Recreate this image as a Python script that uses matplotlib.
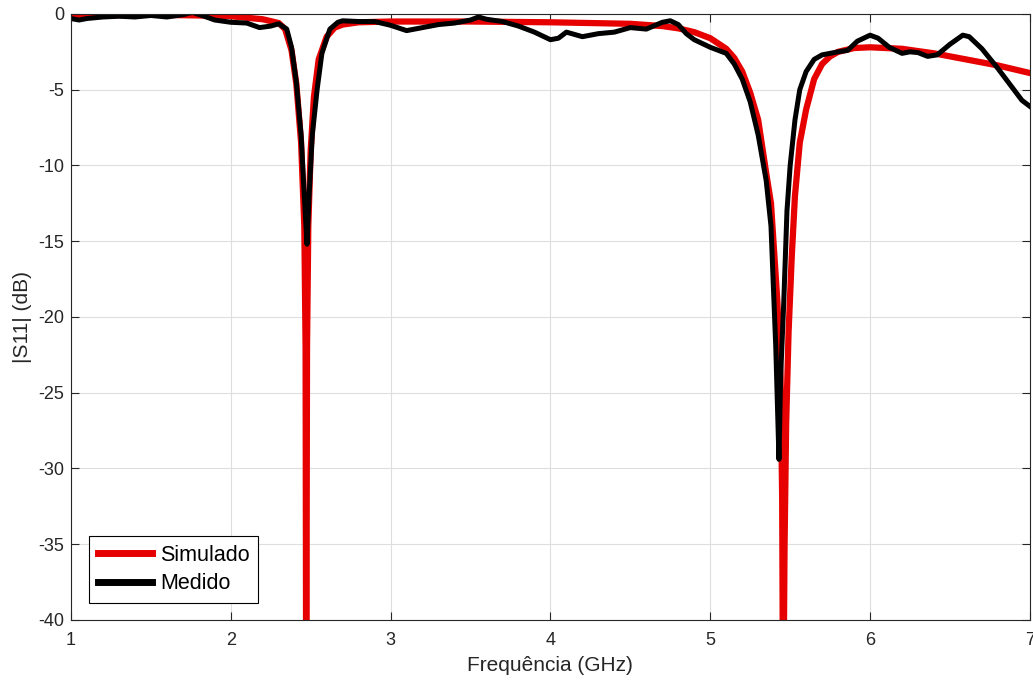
import matplotlib

matplotlib.use("Agg")
import matplotlib.pyplot as plt

# Simulated |S11| (dB)
freq_sim = [1.0, 1.2, 1.5, 1.8, 2.0, 2.1, 2.2, 2.3, 2.34, 2.38, 2.41, 2.44, 2.46, 2.468,
            2.472, 2.477, 2.485, 2.5, 2.52, 2.55, 2.6, 2.65, 2.7, 2.8, 3.0, 3.5, 4.0, 4.5,
            4.7, 4.8, 4.9, 5.0, 5.1, 5.15, 5.2, 5.25, 5.3, 5.35, 5.38, 5.42, 5.44, 5.45,
            5.456, 5.465, 5.475, 5.49, 5.51, 5.53, 5.56, 5.6, 5.62, 5.65, 5.7, 5.75, 5.8,
            5.9, 6.0, 6.2, 6.4, 6.6, 6.8, 7.0]
s11_sim = [-0.1, -0.1, -0.05, -0.1, -0.15, -0.25, -0.35, -0.6, -1.0, -2.4, -4.6, -8.5, -14, -22,
           -48, -22, -14, -9, -5.5, -3.0, -1.5, -0.9, -0.7, -0.55, -0.5, -0.5, -0.55, -0.65,
           -0.8, -0.95, -1.2, -1.6, -2.3, -2.9, -3.8, -5.2, -7.0, -10.5, -12.5, -19, -24, -32,
           -48, -35, -27, -21, -16, -12, -8.5, -6.3, -5.5, -4.3, -3.3, -2.8, -2.5,
           -2.25, -2.2, -2.3, -2.6, -3.0, -3.4, -3.9]

# Measured |S11| (dB)
freq_meas = [1.0, 1.05, 1.1, 1.2, 1.3, 1.4, 1.5, 1.6, 1.7, 1.76, 1.82, 1.9, 2.0, 2.1, 2.18,
             2.25, 2.3, 2.35, 2.38, 2.41, 2.44, 2.46, 2.477, 2.49, 2.51, 2.54, 2.57, 2.62,
             2.67, 2.7, 2.8, 2.9, 3.0, 3.1, 3.2, 3.3, 3.4, 3.5, 3.55, 3.6, 3.7, 3.8, 3.9,
             4.0, 4.05, 4.1, 4.2, 4.3, 4.4, 4.5, 4.6, 4.7, 4.75, 4.8, 4.85, 4.9, 5.0, 5.1,
             5.15, 5.2, 5.25, 5.3, 5.35, 5.38, 5.41, 5.43, 5.44, 5.46, 5.48, 5.5, 5.53,
             5.56, 5.6, 5.65, 5.7, 5.8, 5.86, 5.92, 6.0, 6.05, 6.12, 6.2, 6.25, 6.3, 6.36,
             6.42, 6.5, 6.58, 6.62, 6.7, 6.8, 6.9, 6.95, 7.0]
s11_meas = [-0.3, -0.4, -0.3, -0.2, -0.15, -0.2, -0.1, -0.2, -0.05, 0.1, -0.1, -0.4, -0.55, -0.6,
            -0.9, -0.8, -0.65, -1.0, -2.2, -4.5, -8.0, -12.0, -15.2, -12.0, -8.0, -5.0, -2.6, -1.0,
            -0.55, -0.45, -0.5, -0.5, -0.75, -1.1, -0.9, -0.7, -0.6, -0.4, -0.2, -0.35, -0.5, -0.8, -1.2,
            -1.7, -1.6, -1.2, -1.5, -1.3, -1.2, -0.9, -1.0, -0.55, -0.45, -0.7, -1.3, -1.7, -2.2, -2.6,
            -3.3, -4.3, -5.8, -8.0, -11.0, -14.0, -22.0, -29.4, -24.0, -19.0, -13.0, -10.0, -7.0,
            -5.0, -3.8, -3.0, -2.7, -2.5, -2.4, -1.8, -1.4, -1.6, -2.2, -2.6, -2.5, -2.55, -2.8,
            -2.7, -2.0, -1.4, -1.5, -2.3, -3.6, -5.0, -5.7, -6.1]

x_ticks = [1, 2, 3, 4, 5, 6, 7]
y_ticks = [-40, -35, -30, -25, -20, -15, -10, -5, 0]

plt.rcParams["font.family"] = ["Liberation Sans", "DejaVu Sans"]
plt.rcParams["axes.unicode_minus"] = False
text_color = "#262626"

fig = plt.figure(figsize=(10.33, 6.84), dpi=100)
ax = fig.add_axes([0.0687, 0.0936, 0.9283, 0.886])

ax.plot(freq_sim, s11_sim, color="#e60000", linewidth=4.5, label="Simulado", solid_joinstyle="round")
ax.plot(freq_meas, s11_meas, color="black", linewidth=3.6, label="Medido", solid_joinstyle="round")

ax.set_xlim(1, 7)
ax.set_ylim(-40, 0)
ax.set_xticks(x_ticks)
ax.set_yticks(y_ticks)
ax.grid(True, color="#dedede", linewidth=0.8)
ax.set_axisbelow(True)
ax.tick_params(direction="in", length=6, width=0.8, top=True, right=True,
               labelsize=13, colors=text_color)
ax.tick_params(axis="y", pad=5)
ax.tick_params(axis="x", pad=9)
for spine in ax.spines.values():
    spine.set_color(text_color)
    spine.set_linewidth(0.8)

ax.set_xlabel("Frequência (GHz)", fontsize=15, color=text_color, labelpad=5)
ax.set_ylabel("|S11| (dB)", fontsize=15, color=text_color, labelpad=4)

leg = ax.legend(loc="lower left", bbox_to_anchor=(0.019, 0.028), borderaxespad=0,
                fontsize=15.5, fancybox=False, framealpha=1, edgecolor="black",
                handlelength=2.5, handletextpad=0.4, borderpad=0.4, labelspacing=0.35)
leg.get_frame().set_linewidth(0.8)
for line in leg.get_lines():
    line.set_linewidth(5)

fig.savefig("out.png", dpi=100)
